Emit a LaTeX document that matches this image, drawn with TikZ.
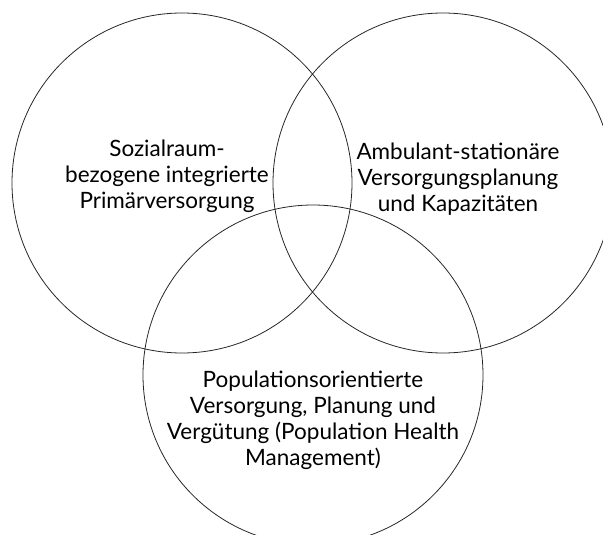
\documentclass[tikz,border=0pt]{standalone}
\usepackage{fontspec}
\setmainfont{Lato}
\usetikzlibrary{positioning}
\tikzset{
  ring/.style={draw=black!85, line width=0.8pt, circle, minimum size=340pt, inner sep=0pt},
  lbl/.style={align=center, font=\fontsize{22.5}{26}\selectfont, text=black, inner sep=0pt},
}

\begin{document}
\begin{tikzpicture}[x=1pt, y=-1pt]
    \useasboundingbox (0,0) rectangle (603,535);
    \clip (0,0) rectangle (603,535);
    % the three fields
    \node[ring] (prim) at (182,183) {};
    \node[ring] (amb)  at (443,183) {};
    \node[ring] (pop)  at (313,375) {};
    % their labels
    \node[lbl] (primtxt) at (167,176.5) {Sozialraum-\\bezogene integrierte\\Primärversorgung};
    \node[lbl] (ambtxt)  at (458,179) {Ambulant-stationäre\\Versorgungsplanung\\und Kapazitäten};
    \node[lbl] (poptxt)  at (313,420) {Populationsorientierte\\Versorgung, Planung und\\Vergütung (Population Health\\Management)};
\end{tikzpicture}
\end{document}
